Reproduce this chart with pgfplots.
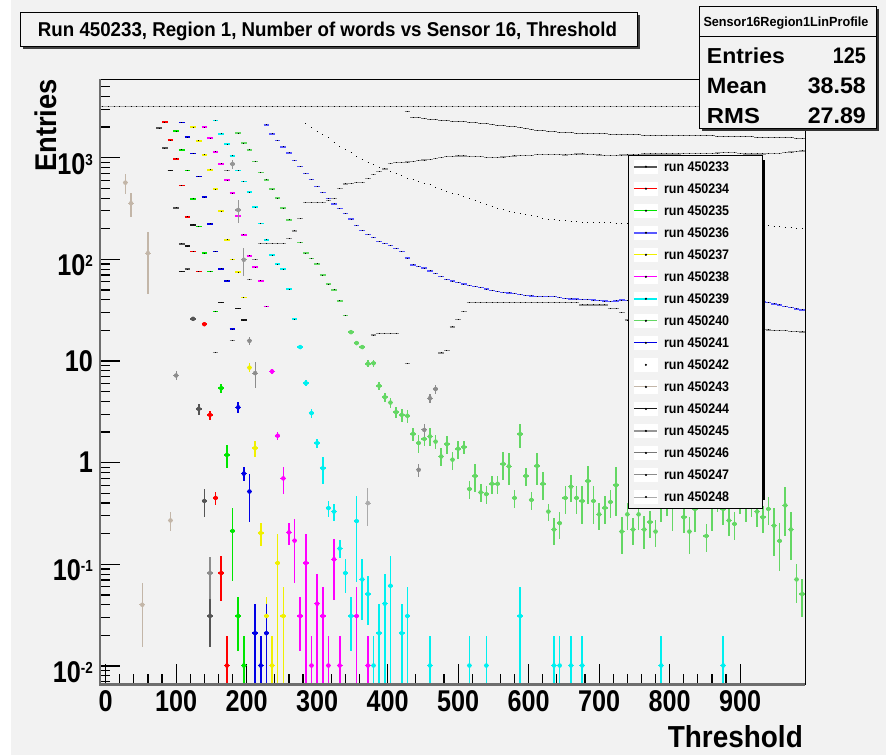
\documentclass[border=0pt]{standalone}
\usepackage{fontspec}
\setmainfont{Liberation Sans}
\newfontfamily\condfont[FakeStretch=0.84]{Liberation Sans}
\usepackage{graphicx}
\usepackage{pgfplots}
\pgfplotsset{compat=1.18}
\definecolor{bgc}{RGB}{242,242,242}
\definecolor{c33}{RGB}{85,85,85}
\definecolor{c34}{RGB}{255,0,0}
\definecolor{c35}{RGB}{0,230,0}
\definecolor{c36}{RGB}{90,90,255}
\definecolor{c37}{RGB}{240,240,0}
\definecolor{c38}{RGB}{255,0,255}
\definecolor{c39}{RGB}{0,240,240}
\definecolor{c40}{RGB}{100,215,100}
\definecolor{c41}{RGB}{0,0,230}
\definecolor{c43}{RGB}{195,182,168}
\definecolor{c44}{RGB}{25,25,25}
\definecolor{c45}{RGB}{150,150,150}
\definecolor{c46}{RGB}{120,120,120}
\definecolor{c47}{RGB}{140,140,140}
\definecolor{c48}{RGB}{170,170,170}
\definecolor{axg}{RGB}{110,110,110}
\newcommand{\tickfont}{\condfont\bfseries\fontsize{30pt}{30pt}\selectfont}
\newcommand{\suplab}[1]{\rule{0pt}{33pt}10\raisebox{9pt}{\fontsize{16pt}{16pt}\selectfont #1}}
\newcommand{\lgtext}[1]{\makebox[93.6pt][l]{\resizebox{65pt}{9.7pt}{\bfseries #1}}}
\newcommand{\lgimg}[1]{\addlegendimage{legend image code/.code={\fill[white] (0pt,-6.5pt) rectangle (23pt,6.5pt); \draw[#1] (0pt,0pt) -- (23pt,0pt); \fill[black] (11.5pt,0pt) circle (0.6pt);}}}
% horizontal bin bars (x = lower bin edge) with a small dark dot at each bin centre
\pgfplotsset{hb/.style={jump mark left, forget plot, line width=#1, unbounded coords=jump,
   postaction={draw=black, line width=1pt, dash pattern=on 0pt off 2.42pt on 0.8pt off 20pt}},
  eb/.style={only marks, mark=none, forget plot, error bars/y dir=both, error bars/y explicit relative,
   error bars/error mark=none, error bars/error bar style={line width=#1}}}
\begin{document}
\begin{tikzpicture}
\fill[white] (0pt,0pt) rectangle (886pt,-755pt);
\fill[bgc] (11pt,0pt) rectangle (886pt,-755pt);
\useasboundingbox (0pt,0pt) rectangle (886pt,-755pt);
\begin{axis}[
  at={(100pt,-684.3pt)}, anchor=south west,
  width=705pt, height=605pt, scale only axis,
  xmin=-8, xmax=992, ymode=log, ymin=0.0066, ymax=5900,
  xtick={0,100,200,300,400,500,600,700,800,900},
  xticklabels={0,100,200,300,400,500,600,700,800,900},
  minor x tick num=4,
  ytick={0.01,0.1,1,10,100,1000},
  yticklabels={\suplab{-2},\suplab{-1},1,10,\suplab{2},\suplab{3}},
  minor ytick={0.007,0.008,0.009,0.02,0.03,0.04,0.05,0.06,0.07,0.08,0.09,0.2,0.3,0.4,0.5,0.6,0.7,0.8,0.9,2,3,4,5,6,7,8,9,20,30,40,50,60,70,80,90,200,300,400,500,600,700,800,900,2000,3000,4000,5000},
  tick align=inside, tick pos=left,
  major tick length=20pt, minor tick length=10pt,
  every tick/.append style={line width=1.2pt, black},
  axis line style={black, line width=0.8pt},
  tick label style={font=\tickfont, inner sep=0pt},
  xticklabel style={yshift=-6pt},
  yticklabel style={xshift=-7pt},
  legend cell align=left,
  legend style={at={(axis description cs:0.7494,0.8749)}, anchor=north west,
    draw=black, line width=0.8pt, fill=bgc, inner xsep=4.7pt, inner ysep=4.4pt,
    row sep=8.22pt, column sep=5.7pt,
    nodes={inner sep=0pt, text depth=0pt, anchor=west}},
]
% ---------- run 450233
\addplot[hb=1.6pt, color=c33] table[row sep=\\]{x y\\
72 1946\\ 80 1237\\ 88 745\\ 96 320\\ 104 142\\ 112 80\\ 120 26\\ 128 3.38\\ 136 0.42\\ 144 0.031\\ 152 0.031\\};
\addplot[eb=1.6pt, color=c33] table[y error index=2, row sep=\\]{x y r\\
124 26 .05\\ 132 3.38 .12\\ 140 0.42 .3\\ 148 0.031 .5\\};
% ---------- run 450234
\addplot[hb=1.6pt, color=c34] table[row sep=\\]{x y\\
80 2230\\ 88 1490\\ 96 971\\ 104 531\\ 112 261\\ 120 119\\ 128 76\\ 136 23\\ 144 2.95\\ 152 0.45\\ 160 0.082\\ 168 0.0101\\ 176 0.0101\\};
\addplot[eb=1.6pt, color=c34] table[y error index=2, row sep=\\]{x y r\\
140 23 .05\\ 148 2.95 .1\\ 156 0.45 .15\\ 164 0.082 .47\\ 172 0.0101 .95\\};
% ---------- run 450235
\addplot[hb=1.6pt, color=c35] table[row sep=\\]{x y\\
88 3175\\ 96 1819\\ 104 1191\\ 112 745\\ 120 393\\ 128 210\\ 136 115\\ 144 76\\ 152 30.6\\ 160 5.4\\ 168 1.19\\ 176 0.213\\ 184 0.031\\ 192 0.0101\\ 200 0.0101\\};
\addplot[eb=1.6pt, color=c35] table[y error index=2, row sep=\\]{x y r\\
164 5.4 .1\\ 172 1.19 .25\\ 180 0.213 .68\\ 188 0.031 .55\\ 196 0.0101 .95\\};
% ---------- run 450236
\addplot[hb=1.4pt, color=c36] table[row sep=\\]{x y\\
0 3175\\ 8 3175\\ 16 3175\\ nan nan\\
224 2099\\ 232 1711\\ 240 1483\\ 248 1274\\ 256 1112\\ 264 934\\ 272 815\\ 280 696\\ 288 613\\ 296 523\\
304 457\\ 312 395\\ 320 351\\ 328 318\\ 336 284\\ 344 249\\ 352 214\\ 360 191\\ 368 176\\ 376 163\\
384 149\\ 392 143\\ 400 136\\ 408 127\\ 416 119\\ 424 103\\ 432 88\\ 440 85\\ 448 82\\ 456 77\\
464 73\\ 472 68\\ 480 63\\ 488 61\\ 496 59\\ 504 57\\ 512 55.5\\ 520 54\\ 528 52.5\\ 536 51\\
544 49.5\\ 552 48\\ 560 47.3\\ 568 46.7\\ 576 46\\ 584 45\\ 592 44\\ 600 43.6\\ 608 43.3\\ 616 43\\
624 43\\ 632 43\\ 640 42\\ 648 41\\ 656 40.8\\ 664 40.6\\ 672 40.5\\ 680 40.2\\ 688 39.8\\ 696 39.3\\
704 38.8\\ 712 38.3\\ 720 39\\ 728 39.8\\ 736 39.5\\ 744 39.5\\ nan nan\\
928 38\\ 936 37.5\\ 944 36.5\\ 952 35.6\\ 960 34.5\\ 968 33.5\\ 976 32.6\\ 984 31.8\\ 992 31.8\\};
% ---------- run 450237
\addplot[hb=1.6pt, color=c37] table[row sep=\\]{x y\\
120 1991\\ 128 1459\\ 136 1063\\ 144 757\\ 152 489\\ 160 297\\ 168 155\\ 176 100\\ 184 74.7\\ 192 42\\
200 8.6\\ 208 1.39\\ 216 0.203\\ 224 0.031\\ 232 0.0101\\ 240 0.103\\ 248 0.031\\ 256 0.031\\};
\addplot[eb=1.6pt, color=c37] table[y error index=2, row sep=\\]{x y r\\
204 8.6 .1\\ 212 1.39 .18\\ 220 0.203 .25\\ 228 0.031 .55\\ 236 0.0101 .95\\ 244 0.103 .95\\ 252 0.031 .95\\};
% ---------- run 450238
\addplot[hb=1.6pt, color=c38] table[row sep=\\]{x y\\
136 1991\\ 144 1552\\ 152 1138\\ 160 867\\ 168 600\\ 176 447\\ 184 267\\ 192 174\\ 200 108\\ 208 83.6\\
216 61.4\\ 224 34.3\\ 232 7.9\\ 240 1.84\\ 248 0.70\\ 256 0.206\\ 264 0.171\\ 272 0.031\\ 280 0.103\\ 288 0.0101\\
296 0.041\\ 304 0.031\\ 312 0.0101\\ 320 0.112\\ 328 0.0101\\ 336 0.0101\\ nan nan\\
352 0.031\\ 360 0.031\\ nan nan\\ 368 0.0101\\ 376 0.0101\\};
\addplot[eb=1.6pt, color=c38] table[y error index=2, row sep=\\]{x y r\\
236 7.9 .05\\ 244 1.84 .1\\ 252 0.70 .3\\ 260 0.206 .25\\ 268 0.171 .62\\ 276 0.031 .55\\ 284 0.103 .95\\ 292 0.0101 .95\\
300 0.041 .95\\ 308 0.031 .95\\ 316 0.0101 .95\\ 324 0.112 .6\\ 332 0.0101 .95\\ 356 0.031 .95\\ 372 0.0101 .95\\};
% ---------- run 450239
\addplot[hb=1.6pt, color=c39] table[row sep=\\]{x y\\
152 2312\\ 160 1710\\ 168 1354\\ 176 1039\\ 184 745\\ 192 581\\ 200 457\\ 208 325\\ 216 226\\ 224 155\\
232 110\\ 240 89.5\\ 248 80\\ 256 51\\ 264 25.8\\ 272 13.7\\ 280 6.05\\ 288 3.07\\ 296 1.56\\ 304 0.88\\
312 0.357\\ 320 0.33\\ 328 0.143\\ 336 0.082\\ 344 0.031\\ 352 0.266\\ 360 0.071\\ 368 0.051\\ 376 0.0101\\ 384 0.021\\
392 0.041\\ 400 0.0615\\ 408 0.0615\\ nan nan\\ 416 0.021\\ 424 0.031\\ 432 0.031\\ nan nan\\
456 0.0101\\ 464 0.0101\\ nan nan\\ 512 0.0101\\ 520 0.0101\\ nan nan\\ 536 0.0101\\ 544 0.0101\\ nan nan\\
584 0.031\\ 592 0.031\\ nan nan\\ 632 0.0101\\ 640 0.0101\\ 648 0.0101\\ nan nan\\ 656 0.0101\\ 664 0.0101\\ nan nan\\
672 0.0101\\ 680 0.0101\\ nan nan\\ 784 0.0101\\ 792 0.0101\\ nan nan\\ 872 0.0101\\ 880 0.0101\\};
\addplot[eb=1.6pt, color=c39] table[y error index=2, row sep=\\]{x y r\\
276 13.7 .05\\ 284 6.05 .07\\ 292 3.07 .1\\ 300 1.56 .1\\ 308 0.88 .3\\ 316 0.357 .18\\ 324 0.33 .2\\ 332 0.143 .2\\
340 0.082 .37\\ 348 0.031 .55\\ 356 0.266 .75\\ 364 0.071 .6\\ 372 0.051 .5\\ 380 0.0101 .95\\ 388 0.021 .95\\ 396 0.041 .95\\
404 0.0615 .95\\ 420 0.021 .95\\ 428 0.031 .95\\ 460 0.0101 .95\\ 516 0.0101 .95\\ 540 0.0101 .95\\ 588 0.031 .95\\ 636 0.0101 .95\\
644 0.0101 .95\\ 660 0.0101 .95\\ 676 0.0101 .95\\ 788 0.0101 .95\\ 876 0.0101 .95\\};
% ---------- run 450240
\addplot[hb=1.6pt, color=c40] table[row sep=\\]{x y\\
-8 3175\\ 0 3175\\ nan nan\\
176 3175\\ 184 1738\\ 192 1387\\ 200 1191\\ 208 914\\ 216 713\\ 224 604\\ 232 489\\ 240 399\\ 248 318\\
256 244\\ 264 191\\ 272 146\\ 280 115\\ 288 102\\ 296 90\\ 304 70\\ 312 57\\ 320 50\\ 328 39\\
336 28\\ 344 19.2\\ 352 15.0\\ 360 13.7\\ 368 9.4\\ 376 9.5\\ 384 5.7\\ 392 4.4\\ 400 3.9\\ 408 3.14\\
416 2.95\\ 424 2.89\\ 432 1.92\\ 440 1.56\\ 448 1.71\\ 456 1.81\\ 464 1.61\\ 472 1.15\\ 480 1.52\\ 488 1.07\\
496 1.37\\ 504 1.42\\ 512 0.55\\ 520 0.74\\ 528 0.51\\ 536 0.49\\ 544 0.62\\ 552 0.62\\ 560 0.97\\ 568 0.92\\
576 0.45\\ 584 1.91\\ 592 0.74\\ 600 0.43\\ 608 0.93\\ 616 0.62\\ 624 0.33\\ 632 0.22\\ 640 0.254\\ 648 0.45\\
656 0.58\\ 664 0.45\\ 672 0.42\\ 680 0.66\\ 688 0.42\\ 696 0.31\\ 704 0.36\\ 712 0.41\\ 720 0.60\\ 728 0.21\\
736 0.31\\ 744 0.22\\ 752 0.31\\ 760 0.22\\ 768 0.26\\ 776 0.21\\ 784 0.40\\ 792 0.43\\ 800 0.43\\ 808 0.5\\
816 0.29\\ 824 0.21\\ 832 0.35\\ 840 0.5\\ 848 0.19\\ 856 0.43\\ 864 0.47\\ 872 0.35\\ 880 0.27\\ 888 0.25\\
896 0.45\\ 904 0.43\\ 912 0.42\\ 920 0.33\\ 928 0.29\\ 936 0.35\\ 944 0.24\\ 952 0.17\\ 960 0.38\\ 968 0.22\\
976 0.071\\ 984 0.051\\ 992 0.051\\};
\addplot[eb=1.6pt, color=c40] table[y error index=2, row sep=\\]{x y r\\
348 19.2 .05\\ 356 15.0 .05\\ 364 13.7 .05\\ 372 9.4 .08\\ 380 9.5 .08\\ 388 5.7 .1\\ 396 4.4 .1\\ 404 3.9 .12\\ 412 3.14 .12\\ 420 2.95 .15\\
428 2.89 .15\\ 436 1.92 .15\\ 444 1.56 .2\\ 452 1.71 .15\\ 460 1.81 .2\\ 468 1.61 .15\\ 476 1.15 .2\\ 484 1.52 .2\\ 492 1.07 .2\\ 500 1.37 .2\\
508 1.42 .15\\ 516 0.55 .2\\ 524 0.74 .3\\ 532 0.51 .2\\ 540 0.49 .2\\ 548 0.62 .2\\ 556 0.62 .2\\ 564 0.97 .3\\ 572 0.92 .35\\ 580 0.45 .2\\
588 1.91 .27\\ 596 0.74 .2\\ 604 0.43 .2\\ 612 0.93 .35\\ 620 0.62 .3\\ 628 0.33 .2\\ 636 0.22 .3\\ 644 0.254 .3\\ 652 0.45 .3\\ 660 0.58 .3\\
668 0.45 .3\\ 676 0.42 .4\\ 684 0.66 .4\\ 692 0.42 .4\\ 700 0.31 .3\\ 708 0.36 .3\\ 716 0.41 .3\\ 724 0.60 .5\\ 732 0.21 .4\\ 740 0.31 .3\\
748 0.22 .3\\ 756 0.31 .3\\ 764 0.22 .35\\ 772 0.26 .3\\ 780 0.21 .3\\ 788 0.40 .35\\ 796 0.43 .3\\ 804 0.43 .5\\ 812 0.5 .3\\ 820 0.29 .3\\
828 0.21 .4\\ 836 0.35 .4\\ 844 0.5 .3\\ 852 0.19 .3\\ 860 0.43 .5\\ 868 0.47 .3\\ 876 0.35 .3\\ 884 0.27 .3\\ 892 0.25 .3\\ 900 0.45 .3\\
908 0.43 .4\\ 916 0.42 .3\\ 924 0.33 .3\\ 932 0.29 .3\\ 940 0.35 .3\\ 948 0.24 .5\\ 956 0.17 .5\\ 964 0.38 .5\\ 972 0.22 .5\\ 980 0.071 .42\\
988 0.051 .4\\};
% ---------- run 450241
\addplot[hb=1.6pt, color=c41] table[row sep=\\]{x y\\
104 2228\\ 112 1588\\ 120 1095\\ 128 650\\ 136 408\\ 144 223\\ 152 119\\ 160 80.5\\ 168 61.4\\ 176 20.6\\
184 3.5\\ 192 0.78\\ 200 0.52\\ 208 0.021\\ 216 0.0101\\ 224 0.021\\ 232 0.021\\};
\addplot[eb=1.6pt, color=c41] table[y error index=2, row sep=\\]{x y r\\
188 3.5 .12\\ 196 0.78 .15\\ 204 0.52 .5\\ 212 0.021 .95\\ 220 0.0101 .95\\ 228 0.021 .95\\};
% ---------- run 450242 (points only)
\addplot[hb=1pt, draw=none] table[row sep=\\]{x y\\
280 2146\\ 288 1960\\ 296 1802\\ 304 1680\\ 312 1563\\ 320 1420\\ 328 1283\\ 336 1190\\ 344 1112\\ 352 1030\\
360 949\\ 368 900\\ 376 850\\ 384 805\\ 392 765\\ 400 728\\ 408 693\\ 416 661\\ 424 630\\ 432 604\\
440 582\\ 448 560\\ 456 539\\ 464 513\\ 472 488\\ 480 463\\ 488 446\\ 496 430\\ 504 413\\ 512 395\\
520 378\\ 528 361\\ 536 346\\ 544 332\\ 552 318\\ 560 308\\ 568 298\\ 576 288\\ 584 281\\ 592 274\\
600 268\\ 608 261\\ 616 254\\ 624 248\\ 632 245\\ 640 242\\ 648 239\\ 656 236\\ 664 234\\ 672 232\\
680 231\\ 688 230\\ 696 230\\ 704 229\\ 712 228\\ 720 226\\ 728 226\\ 736 226\\ 744 226\\ nan nan\\
928 215\\ 936 213\\ 944 211\\ 952 209\\ 960 207\\ 968 205\\ 976 203\\ 984 201\\ 992 201\\};
% ---------- run 450243
\addplot[hb=1.3pt, color=c43] table[row sep=\\]{x y\\
24 568\\ 32 356\\ 40 356\\ nan nan\\ 48 0.040\\ 56 115\\ 64 115\\ nan nan\\ 88 0.27\\ 96 0.27\\};
\addplot[eb=1.3pt, color=c43] table[y error index=2, row sep=\\]{x y r\\
28 568 .23\\ 36 356 .26\\ 52 0.040 .62\\ 60 115 .6\\ 92 0.27 .22\\};
% ---------- run 450244
\addplot[hb=1.3pt, color=c44] table[row sep=\\]{x y\\
88 752\\ 96 752\\ nan nan\\ 104 76\\ 112 135\\ 120 218\\ 128 218\\ nan nan\\ 160 37.8\\ 168 37.8\\ nan nan\\ 184 33\\ 192 25.3\\ 200 25.3\\};
% ---------- run 450245
\addplot[hb=1.2pt, color=c45] table[row sep=\\]{x y\\
168 745\\ 176 866\\ 184 306\\ 192 99\\ 200 63\\ 208 100\\ 216 143\\ 224 143\\ 232 143\\ 240 143\\
248 143\\ 256 161\\ 264 190\\ 272 254\\ 280 360\\ 288 360\\ 296 360\\ 304 360\\ 312 380\\ 320 399\\
328 500\\ 336 551\\ 344 560\\ 352 565\\ 360 568\\ 368 627\\ 376 680\\ 384 728\\ 392 774\\ 400 881\\
408 890\\ 416 893\\ 424 905\\ 432 914\\ 440 930\\ 448 948\\ 456 965\\ 464 985\\ 472 1005\\ 480 1023\\
488 1030\\ 496 1039\\ 504 1039\\ 512 1030\\ 520 1025\\ 528 1023\\ 536 1010\\ 544 1005\\ 552 1000\\ 560 1015\\
568 1030\\ 576 1039\\ 584 1045\\ 592 1050\\ 600 1056\\ 608 1065\\ 616 1075\\ 624 1080\\ 632 1075\\ 640 1068\\
648 1063\\ 656 1075\\ 664 1085\\ 672 1087\\ 680 1075\\ 688 1065\\ 696 1063\\ 704 1055\\ 712 1050\\ 720 1055\\
728 1060\\ 736 1063\\ 744 1070\\ 752 1080\\ 760 1087\\ 768 1087\\ 776 1087\\ 784 1087\\ 792 1087\\ 800 1087\\
808 1087\\ 816 1090\\ 824 1095\\ 832 1100\\ 840 1105\\ 848 1105\\ 856 1105\\ 864 1110\\ 872 1115\\ 880 1120\\
888 1120\\ 896 1100\\ 904 1087\\ 912 1087\\ 920 1087\\ 928 1087\\ 936 1095\\ 944 1100\\ 952 1105\\ 960 1120\\
968 1135\\ 976 1150\\ 984 1164\\ 992 1164\\};
\addplot[eb=1.2pt, color=c45] table[y error index=2, row sep=\\]{x y r\\
180 866 .1\\ 188 306 .25\\ 196 99 .3\\};
% ---------- run 450246
\addplot[hb=1pt, color=c46] table[row sep=\\]{x y\\
424 2833\\ 432 2495\\ 440 2460\\ 448 2430\\ 456 2400\\ 464 2370\\ 472 2340\\ 480 2311\\ 488 2290\\ 496 2268\\
504 2246\\ 512 2224\\ 520 2200\\ 528 2179\\ 536 2150\\ 544 2122\\ 552 2095\\ 560 2068\\ 568 2042\\ 576 2017\\
584 1980\\ 592 1942\\ 600 1905\\ 608 1870\\ 616 1835\\ 624 1802\\ 632 1790\\ 640 1780\\ 648 1768\\ 656 1757\\
664 1747\\ 672 1738\\ 680 1731\\ 688 1725\\ 696 1718\\ 704 1712\\ 712 1705\\ 720 1699\\ 728 1693\\ 736 1688\\
744 1682\\ 752 1677\\ 760 1671\\ 768 1669\\ 776 1667\\ 784 1665\\ 792 1664\\ 800 1662\\ 808 1660\\ 816 1656\\
824 1651\\ 832 1647\\ 840 1642\\ 848 1638\\ 856 1634\\ 864 1630\\ 872 1626\\ 880 1621\\ 888 1617\\ 896 1613\\
904 1609\\ 912 1603\\ 920 1597\\ 928 1591\\ 936 1585\\ 944 1579\\ 952 1573\\ 960 1568\\ 968 1563\\ 976 1557\\
984 1552\\ 992 1552\\};
% ---------- run 450247
\addplot[hb=1.2pt, color=c47] table[row sep=\\]{x y\\
96 7.2\\ 104 7.2\\ nan nan\\ 144 0.082\\ 152 12.1\\ 160 12.1\\ nan nan\\ 176 15.8\\ 184 15.8\\ nan nan\\
200 15.8\\ 208 7.6\\ 216 7.6\\ nan nan\\ 376 18\\ 384 18.8\\ 392 18.8\\ 400 18.8\\ 408 18.8\\ 416 18.8\\ nan nan\\
424 9.4\\ 432 9.4\\ nan nan\\
440 0.85\\ 448 2.1\\ 456 4.3\\ 464 5.3\\ 472 12\\ 480 12.7\\ 488 21.6\\ 496 25.8\\ 504 30.6\\ 512 37.7\\
520 37.7\\ 528 37.7\\ 536 37.7\\ 544 37.7\\ 552 37.7\\ 560 37.7\\ 568 37.7\\ 576 37.7\\ 584 37.7\\ 592 37.7\\
600 37.7\\ 608 37.7\\ 616 37.7\\ 624 37.7\\ 632 37.7\\ 640 37.7\\ 648 37.7\\ 656 37.7\\ 664 37.7\\ 672 35.6\\
680 35.6\\ 688 35.6\\ 696 35.6\\ 704 35.6\\ 712 33\\ 720 33\\ 728 30\\ 736 25.3\\ 744 25.3\\ nan nan\\
928 20.5\\ 936 20.2\\ 944 20\\ 952 19.8\\ 960 19.8\\ 968 19.6\\ 976 19.5\\ 984 19.3\\ 992 19.3\\};
\addplot[eb=1.2pt, color=c47] table[y error index=2, row sep=\\]{x y r\\
100 7.2 .1\\ 148 0.082 .45\\ 204 15.8 .1\\ 212 7.6 .28\\ 444 0.85 .15\\ 452 2.1 .15\\ 460 4.3 .1\\ 468 5.3 .1\\};
% ---------- run 450248
\addplot[hb=1pt, color=c48] table[row sep=\\]{x y\\
-8 3175\\ 0 3175\\ 8 3175\\ 16 3175\\ 24 3175\\ 32 3175\\ 40 3175\\ 48 3175\\ 56 3175\\ 64 3175\\
72 3175\\ 80 3175\\ 88 3175\\ 96 3175\\ 104 3175\\ 112 3175\\ 120 3175\\ 128 3175\\ 136 3175\\ 144 3175\\
152 3175\\ 160 3175\\ 168 3175\\ 176 3175\\ 184 3175\\ 192 3175\\ 200 3175\\ 208 3175\\ 216 3175\\ 224 3175\\
232 3175\\ 240 3175\\ 248 3175\\ 256 3175\\ 264 3175\\ 272 3175\\ 280 3175\\ 288 3175\\ 296 3175\\ 304 3175\\
312 3175\\ 320 3175\\ 328 3175\\ 336 3175\\ 344 3175\\ 352 3175\\ 360 3175\\ 368 3175\\ 376 3175\\ 384 3175\\
392 3175\\ 400 3175\\ 408 3175\\ 416 3175\\ 424 3175\\ 432 3175\\ 440 3175\\ 448 3175\\ 456 3175\\ 464 3175\\
472 3175\\ 480 3175\\ 488 3175\\ 496 3175\\ 504 3175\\ 512 3175\\ 520 3175\\ 528 3175\\ 536 3175\\ 544 3175\\
552 3175\\ 560 3175\\ 568 3175\\ 576 3175\\ 584 3175\\ 592 3175\\ 600 3175\\ 608 3175\\ 616 3175\\ 624 3175\\
632 3175\\ 640 3175\\ 648 3175\\ 656 3175\\ 664 3175\\ 672 3175\\ 680 3175\\ 688 3175\\ 696 3175\\ 704 3175\\
712 3175\\ 720 3175\\ 728 3175\\ 736 3175\\ 744 3175\\ 752 3175\\ 760 3175\\ 768 3175\\ 776 3175\\ 784 3175\\
792 3175\\ 800 3175\\ 808 3175\\ 816 3175\\ 824 3175\\ 832 3175\\ 840 3175\\ 848 3175\\ 856 3175\\ 864 3175\\
872 3175\\ 880 3175\\ 888 3175\\ 896 3175\\ 904 3175\\ 912 3175\\ 920 3175\\ 928 3175\\ 936 3175\\ 944 3175\\
952 3175\\ 960 3175\\ 968 3175\\ 976 3175\\ 984 3175\\ 992 3175\\ nan nan\\ 368 0.40\\ 376 0.40\\};
\addplot[eb=1pt, color=c48] table[y error index=2, row sep=\\]{x y r\\ 372 0.40 .4\\};
% ---------- legend shadow (drawn before the legend box)
\fill[black] (rel axis cs:0.7565,0.3046) rectangle (rel axis cs:0.9433,0.8666);
% ---------- legend
\lgimg{color=c33, line width=2pt}\addlegendentry{\lgtext{run 450233}}
\lgimg{color=c34, line width=1pt}\addlegendentry{\lgtext{run 450234}}
\lgimg{color=c35, line width=1pt}\addlegendentry{\lgtext{run 450235}}
\lgimg{color=c36, line width=2pt}\addlegendentry{\lgtext{run 450236}}
\lgimg{color=c37, line width=1pt}\addlegendentry{\lgtext{run 450237}}
\lgimg{color=c38, line width=1pt}\addlegendentry{\lgtext{run 450238}}
\lgimg{color=c39, line width=2pt}\addlegendentry{\lgtext{run 450239}}
\lgimg{color=c40, line width=1pt}\addlegendentry{\lgtext{run 450240}}
\lgimg{color=c41, line width=1pt}\addlegendentry{\lgtext{run 450241}}
\lgimg{draw=none}\addlegendentry{\lgtext{run 450242}}
\lgimg{color=c43, line width=1pt}\addlegendentry{\lgtext{run 450243}}
\lgimg{color=c44, line width=1pt}\addlegendentry{\lgtext{run 450244}}
\lgimg{color=c45, line width=2pt}\addlegendentry{\lgtext{run 450245}}
\lgimg{color=c46, line width=1pt}\addlegendentry{\lgtext{run 450246}}
\lgimg{color=c47, line width=1pt}\addlegendentry{\lgtext{run 450247}}
\lgimg{color=c48, line width=1pt}\addlegendentry{\lgtext{run 450248}}
\end{axis}
% thick axis lines
\draw[axg, line width=2.5pt] (100pt,-79.3pt) -- (100pt,-684.3pt) -- (805pt,-684.3pt);
% title box
\fill[black!75] (22.5pt,-14.5pt) rectangle (639.5pt,-48.5pt);
\draw[fill=bgc, line width=0.8pt] (20pt,-12pt) rectangle (637pt,-46pt);
\node[anchor=base, inner sep=0pt] at (327.5pt,-36.3pt) {\resizebox{579pt}{14.5pt}{\bfseries Run 450233, Region 1, Number of words vs Sensor 16, Threshold}};
% stats box
\fill[black!80] (701.5pt,-8.5pt) rectangle (878.5pt,-130.5pt);
\draw[fill=bgc, line width=0.8pt] (699pt,-6pt) rectangle (876pt,-128pt);
\draw[line width=0.8pt] (699pt,-36pt) -- (876pt,-36pt);
\node[anchor=base, inner sep=0pt] at (786pt,-26.7pt) {\resizebox{165pt}{9.6pt}{\bfseries Sensor16Region1LinProfile}};
\node[anchor=base west, inner sep=0pt] at (706.7pt,-63.3pt) {\resizebox{78pt}{15.7pt}{\bfseries Entries}};
\node[anchor=base east, inner sep=0pt] at (866pt,-63.3pt) {\resizebox{33pt}{15.7pt}{\bfseries 125}};
\node[anchor=base west, inner sep=0pt] at (706.7pt,-93.3pt) {\resizebox{60pt}{15.2pt}{\bfseries Mean}};
\node[anchor=base east, inner sep=0pt] at (866pt,-93.3pt) {\resizebox{58pt}{15.7pt}{\bfseries 38.58}};
\node[anchor=base west, inner sep=0pt] at (706.7pt,-123.3pt) {\resizebox{53pt}{15.2pt}{\bfseries RMS}};
\node[anchor=base east, inner sep=0pt] at (866pt,-123.3pt) {\resizebox{58pt}{15.7pt}{\bfseries 27.89}};
% axis titles
\node[rotate=90, anchor=base east, inner sep=0pt] at (56.7pt,-79pt) {\resizebox{92.7pt}{21.7pt}{\bfseries Entries}};
\node[anchor=base east, inner sep=0pt] at (803pt,-747pt) {\resizebox{135pt}{22pt}{\bfseries Threshold}};
\end{tikzpicture}
\end{document}
